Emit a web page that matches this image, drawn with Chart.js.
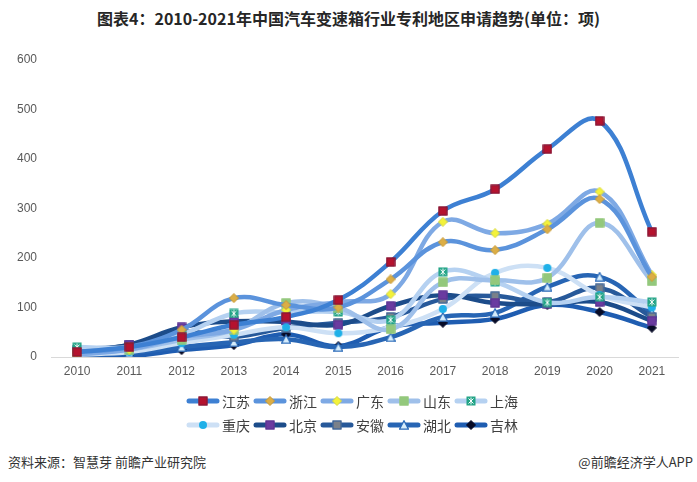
<!DOCTYPE html>
<html>
<head>
<meta charset="utf-8">
<script src="https://cdn.jsdelivr.net/npm/chart.js@4"></script>
<style>
  body { margin: 0; background: #fff; font-family: "Noto Sans CJK SC", "Noto Sans", sans-serif; }
  #page { position: relative; width: 697px; height: 482px; overflow: hidden; }
  #title { position: absolute; left: 0; top: 6px; width: 697px; text-align: center; font-size: 16px; font-weight: bold; color: #262626; }
  #chartBox { position: absolute; left: 0; top: 0; width: 697px; height: 390px; }
  #legend { position: absolute; left: 186px; top: 389px; display: grid; grid-template-columns: repeat(5, 67px); grid-auto-rows: 24px; }
  .item { display: flex; align-items: center; font-size: 14px; color: #404040; white-space: nowrap; }
  .item canvas { margin-right: 2px; }
  .foot { position: absolute; top: 452px; font-size: 13px; color: #333; }
</style>
</head>
<body>
<div id="page">
  <div id="title">图表4：2010-2021年中国汽车变速箱行业专利地区申请趋势(单位：项)</div>
  <div id="chartBox"><canvas id="trendChart"></canvas></div>
  <div id="legend"></div>
  <div class="foot" style="left:8px;">资料来源：智慧芽 前瞻产业研究院</div>
  <div class="foot" style="right:4px;">@前瞻经济学人APP</div>
</div>
<script>
var years = ['2010', '2011', '2012', '2013', '2014', '2015', '2016', '2017', '2018', '2019', '2020', '2021'];
var yTicks = [0, 100, 200, 300, 400, 500, 600];

var jiangsu   = [10, 20, 40, 65, 81, 115, 192, 295, 339, 420, 477, 253];
var zhejiang  = [10, 20, 55, 119, 105, 100, 157, 232, 216, 258, 319, 162];
var guangdong = [5, 15, 40, 55, 95, 111, 127, 273, 250, 269, 334, 166];
var shandong  = [8, 15, 35, 55, 109, 100, 56, 151, 155, 160, 271, 153];
var shanghai  = [20, 20, 45, 88, 90, 91, 75, 172, 152, 110, 121, 111];
var chongqing = [5, 10, 28, 45, 60, 48, 60, 97, 170, 180, 125, 100];
var beijing   = [10, 25, 60, 72, 71, 65, 103, 125, 109, 107, 111, 73];
var anhui     = [15, 24, 51, 41, 59, 69, 81, 117, 123, 111, 139, 81];
var hubei     = [2, 8, 20, 30, 36, 20, 40, 81, 89, 142, 162, 89];
var jilin     = [5, 2, 14, 24, 46, 22, 61, 69, 77, 105, 91, 59];

// marker pictures, reused for chart points and legend
function marker(fn) {
    var c = document.createElement('canvas');
    c.width = 10; c.height = 10;
    fn(c.getContext('2d'));
    return c;
}
function square(fill, stroke) {
    return marker(function(g) {
        g.fillStyle = fill; g.fillRect(0.5, 0.5, 9, 9);
        g.strokeStyle = stroke; g.lineWidth = 1; g.strokeRect(1, 1, 8, 8);
    });
}
function diamond(fill, stroke) {
    return marker(function(g) {
        g.beginPath(); g.moveTo(5, 0.5); g.lineTo(9.5, 5); g.lineTo(5, 9.5); g.lineTo(0.5, 5); g.closePath();
        g.fillStyle = fill; g.fill(); g.strokeStyle = stroke; g.lineWidth = 1; g.stroke();
    });
}
var mSquareRed = square('#b5122e', '#7a1a3a');
var mDiaGold = diamond('#dcae45', '#c99a35');
var mDiaYellow = diamond('#f3f23a', '#d8d840');
var mSquareGreen = square('#93c87c', '#93c87c');
var mStar = marker(function(g) {
    g.fillStyle = '#22a486'; g.fillRect(0.5, 0.5, 9, 9);
    g.strokeStyle = '#fff'; g.lineWidth = 1;
    g.beginPath(); g.moveTo(2.5, 2.5); g.lineTo(7.5, 7.5); g.moveTo(7.5, 2.5); g.lineTo(2.5, 7.5); g.moveTo(5, 1.5); g.lineTo(5, 8.5); g.stroke();
});
var mCircle = marker(function(g) {
    g.beginPath(); g.arc(5, 5, 4, 0, Math.PI * 2); g.fillStyle = '#1fb0e8'; g.fill();
});
var mSquarePurple = square('#6a3ba0', '#5a3590');
var mSquareGray = square('#7b8189', '#2f5e9e');
var mTriangle = marker(function(g) {
    g.beginPath(); g.moveTo(5, 0.8); g.lineTo(9.5, 9.2); g.lineTo(0.5, 9.2); g.closePath();
    g.fillStyle = '#d6ecfb'; g.fill(); g.strokeStyle = '#2a6ab8'; g.lineWidth = 1.3; g.stroke();
});
var mDiaBlack = diamond('#070b26', '#070b26');

var series = [
    { label: '江苏', data: jiangsu,   color: '#3d80d3', point: mSquareRed },
    { label: '浙江', data: zhejiang,  color: '#5b93dc', point: mDiaGold },
    { label: '广东', data: guangdong, color: '#7ea9e4', point: mDiaYellow },
    { label: '山东', data: shandong,  color: '#9fc0ea', point: mSquareGreen },
    { label: '上海', data: shanghai,  color: '#b5d1f1', point: mStar },
    { label: '重庆', data: chongqing, color: '#cde0f5', point: mCircle },
    { label: '北京', data: beijing,   color: '#1c4c8a', point: mSquarePurple },
    { label: '安徽', data: anhui,     color: '#27599a', point: mSquareGray },
    { label: '湖北', data: hubei,     color: '#2765b4', point: mTriangle },
    { label: '吉林', data: jilin,     color: '#1f5db1', point: mDiaBlack }
];

var ctx = document.getElementById('trendChart').getContext('2d');
var trendChart = new Chart(ctx, {
    type: 'line',
    data: {
        labels: years,
        datasets: series.map(function(s) {
            return {
                label: s.label,
                data: s.data,
                borderColor: s.color,
                borderWidth: 4.5,
                tension: 0.4,
                pointStyle: s.point,
                pointRadius: 5,
                pointHoverRadius: 5
            };
        })
    },
    options: {
        responsive: true,
        maintainAspectRatio: false,
        animation: false,
        layout: { padding: { top: 60, right: 19, bottom: 8, left: 0 } },
        plugins: { legend: { display: false }, tooltip: { enabled: false } },
        scales: {
            x: {
                offset: true,
                grid: { display: false, drawTicks: false },
                border: { display: true, color: '#d9d9d9', width: 1 },
                ticks: { color: '#595959', padding: 7, font: { family: 'Liberation Sans', size: 12 } },
                afterFit: function(s) { s.height = 25; }
            },
            y: {
                min: 0,
                max: 600,
                afterBuildTicks: function(s) { s.ticks = yTicks.map(function(v) { return { value: v }; }); },
                grid: { display: false },
                border: { display: false },
                ticks: { color: '#595959', padding: 6, font: { family: 'Liberation Sans', size: 12 } },
                afterFit: function(s) { s.width = 51; }
            }
        }
    }
});

// legend: line sample with marker, then name
var legend = document.getElementById('legend');
series.forEach(function(s) {
    var item = document.createElement('div');
    item.className = 'item';
    var c = document.createElement('canvas');
    c.width = 34; c.height = 12;
    var g = c.getContext('2d');
    g.strokeStyle = s.color; g.lineWidth = 5; g.lineCap = 'round';
    g.beginPath(); g.moveTo(3, 6); g.lineTo(31, 6); g.stroke();
    g.drawImage(s.point, 12, 1);
    item.appendChild(c);
    var t = document.createElement('span');
    t.textContent = s.label;
    item.appendChild(t);
    legend.appendChild(item);
});
</script>
</body>
</html>
